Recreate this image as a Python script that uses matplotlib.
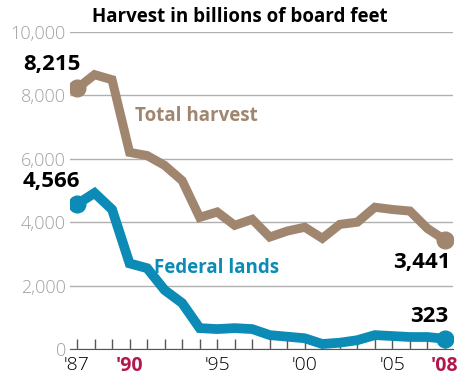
import matplotlib.pyplot as plt

years = list(range(1987, 2009))
total = [8215, 8650, 8490, 6200, 6100, 5790, 5310, 4150, 4320, 3900, 4090,
         3530, 3720, 3840, 3490, 3930, 4000, 4470, 4400, 4350, 3800, 3441]
federal = [4566, 4920, 4400, 2700, 2550, 1860, 1450, 660, 630, 660, 630,
           440, 390, 340, 160, 200, 280, 440, 410, 380, 380, 323]
yticks = [0, 2000, 4000, 6000, 8000, 10000]
xlabels = {1987: "'87", 1990: "'90", 1995: "'95", 2000: "'00", 2005: "'05", 2008: "'08"}

brown = '#a1866f'
blue = '#0b8bb5'
red = '#b3174d'
plt.rcParams['font.family'] = ['Open Sans', 'DejaVu Sans']

fig = plt.figure(figsize=(4.59, 3.79), dpi=100)
ax = fig.add_axes([0.1525, 0.079, 0.8345, 0.837])

ax.plot(years, total, color=brown, lw=6.5, solid_joinstyle='miter', zorder=3)
ax.plot(years, federal, color=blue, lw=7, solid_joinstyle='miter', zorder=3)
for s, c in [(total, brown), (federal, blue)]:
    ax.plot([years[0], years[-1]], [s[0], s[-1]], 'o', color=c, ms=12, zorder=4)

ax.set_xlim(1986.6, 2008.46)
ax.set_ylim(0, 10000)
ax.set_yticks(yticks)
ax.set_yticklabels([f'{v:,}' for v in yticks], color='#a0a0a0', fontsize=13, fontweight='light')
ax.yaxis.grid(True, color='#b0b0b0', lw=1)
ax.tick_params(axis='y', length=0, pad=3)

ax.set_xticks(years)
ax.set_xticklabels([xlabels.get(y, '') for y in years], fontsize=14, fontweight='light')
for lbl, y in zip(ax.get_xticklabels(), years):
    if y in (1990, 2008):
        lbl.set_color(red)
        lbl.set_fontweight('bold')
ax.tick_params(axis='x', direction='in', length=7, width=1, color='#555555', pad=5)

for sp in ['top', 'right', 'left']:
    ax.spines[sp].set_visible(False)
ax.spines['bottom'].set_color('#555555')
ax.set_axisbelow(True)

ax.text(1987.2, 8650, '8,215', fontsize=16, fontweight='bold', ha='right', va='bottom')
ax.text(1987.2, 4950, '4,566', fontsize=16, fontweight='bold', ha='right', va='bottom')
ax.text(2008.3, 3050, '3,441', fontsize=16, fontweight='bold', ha='right', va='top')
ax.text(2008.2, 700, '323', fontsize=16, fontweight='bold', ha='right', va='bottom')
ax.text(1990.3, 7200, 'Total harvest', fontsize=13.5, fontweight='bold', color=brown)
ax.text(1991.4, 2400, 'Federal lands', fontsize=13.5, fontweight='bold', color=blue)

fig.text(0.523, 0.955, 'Harvest in billions of board feet', fontsize=13.5,
         fontweight='bold', ha='center', va='center')

fig.savefig('out.png', dpi=100)
